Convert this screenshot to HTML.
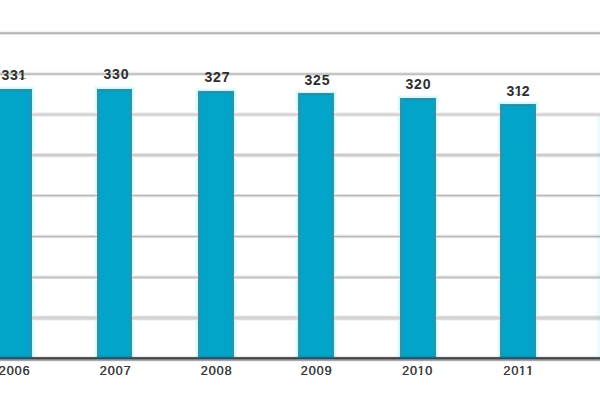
<!DOCTYPE html>
<html>
<head>
<meta charset="utf-8">
<style>
html,body{margin:0;padding:0;background:#fff;}
body{width:600px;height:400px;position:relative;overflow:hidden;font-family:"Liberation Sans",sans-serif;}
.r{position:absolute;left:0;width:600px;height:1px;}
.bar{position:absolute;background:#03a4c9;box-shadow:inset 1px 0 0 #3792a6, inset 2px 0 0 #2696b0, inset 3px 0 0 #149cbc, inset -1px 0 0 #3792a6, inset -2px 0 0 #2696b0, inset -3px 0 0 #149cbc, inset 0 1px 0 #3a8f9f, inset 0 2px 0 #2090a8, inset 0 3px 0 #129cbc;}
.halo{position:absolute;box-shadow:0 0 0 1px #c8f8fd, 0 0 0 2px #dcfdff, 0 0 0 3px #eefeff;}
.v{position:absolute;width:60px;text-align:center;font-weight:bold;font-size:13.8px;letter-spacing:0.85px;padding-left:0.85px;box-sizing:border-box;color:#2e2e2e;text-shadow:none;line-height:16px;height:16px;transform:scaleX(1.02);transform-origin:50% 50%;white-space:nowrap;}
.y{position:absolute;width:60px;text-align:center;font-size:12px;letter-spacing:0.88px;padding-left:0.88px;box-sizing:border-box;color:#3a3a3a;text-shadow:0.35px 0 0 #3a3a3a;line-height:16px;height:16px;transform:scaleX(1.05);transform-origin:50% 50%;white-space:nowrap;}
.o{display:inline-block;}
.v .o{margin-left:-0.5px;margin-right:-1.5px;clip-path:polygon(0 0,100% 0,100% 11.0px,5.0px 11.0px,5.0px 100%,2.8px 100%,2.8px 11.0px,0 11.0px);}
.y .o{margin-left:-0.3px;margin-right:-0.3px;clip-path:polygon(0 0,100% 0,100% 11.0px,4.2px 11.0px,4.2px 100%,2.6px 100%,2.6px 11.0px,0 11.0px);}
.edge{position:absolute;top:116px;right:0;width:5px;height:241px;background:linear-gradient(to right,rgba(0,200,240,0),rgba(0,210,245,0.11));}
</style>
</head>
<body>

<div class="halo" style="left:-4.5px;width:36.5px;top:89px;height:268px"></div>
<div class="halo" style="left:96.5px;width:35.5px;top:89px;height:268px"></div>
<div class="halo" style="left:198px;width:36px;top:91px;height:266px"></div>
<div class="halo" style="left:298px;width:36px;top:93px;height:264px"></div>
<div class="halo" style="left:400px;width:36px;top:98px;height:259px"></div>
<div class="halo" style="left:500px;width:36px;top:104px;height:253px"></div>
<div class="r" style="top:30px;background:#fefefe"></div>
<div class="r" style="top:31px;background:#f4f4f4"></div>
<div class="r" style="top:32px;background:#c0c0c0"></div>
<div class="r" style="top:33px;background:#b8b8b8"></div>
<div class="r" style="top:34px;background:#e4e4e4"></div>
<div class="r" style="top:35px;background:#fcfcfc"></div>
<div class="r" style="top:71px;background:#fcfcfc"></div>
<div class="r" style="top:72px;background:#ececec"></div>
<div class="r" style="top:73px;background:#c8c8c8"></div>
<div class="r" style="top:74px;background:#c0c0c0"></div>
<div class="r" style="top:75px;background:#ececec"></div>
<div class="r" style="top:76px;background:#fefefe"></div>
<div class="r" style="top:111px;background:#fefefe"></div>
<div class="r" style="top:112px;background:#f2f2f2"></div>
<div class="r" style="top:113px;background:#dcdcdc"></div>
<div class="r" style="top:114px;background:#d4d4d4"></div>
<div class="r" style="top:115px;background:#d6d6d6"></div>
<div class="r" style="top:116px;background:#f2f2f2"></div>
<div class="r" style="top:152px;background:#fcfcfc"></div>
<div class="r" style="top:153px;background:#e8e8e8"></div>
<div class="r" style="top:154px;background:#c8c8c8"></div>
<div class="r" style="top:155px;background:#d0d0d0"></div>
<div class="r" style="top:156px;background:#dcdcdc"></div>
<div class="r" style="top:157px;background:#f6f6f6"></div>
<div class="r" style="top:193px;background:#fefefe"></div>
<div class="r" style="top:194px;background:#e2e2e2"></div>
<div class="r" style="top:195px;background:#b8b8b8"></div>
<div class="r" style="top:196px;background:#dadada"></div>
<div class="r" style="top:197px;background:#f6f6f6"></div>
<div class="r" style="top:234px;background:#f8f8f8"></div>
<div class="r" style="top:235px;background:#e0e0e0"></div>
<div class="r" style="top:236px;background:#b8b8b8"></div>
<div class="r" style="top:237px;background:#dadada"></div>
<div class="r" style="top:238px;background:#fafafa"></div>
<div class="r" style="top:274px;background:#fcfcfc"></div>
<div class="r" style="top:275px;background:#f0f0f0"></div>
<div class="r" style="top:276px;background:#dadada"></div>
<div class="r" style="top:277px;background:#c0c0c0"></div>
<div class="r" style="top:278px;background:#dadada"></div>
<div class="r" style="top:279px;background:#fafafa"></div>
<div class="r" style="top:315px;background:#f4f4f4"></div>
<div class="r" style="top:316px;background:#dadada"></div>
<div class="r" style="top:317px;background:#d4d4d4"></div>
<div class="r" style="top:318px;background:#d2d2d2"></div>
<div class="r" style="top:319px;background:#dcdcdc"></div>
<div class="r" style="top:320px;background:#f4f4f4"></div>
<div class="bar" style="left:-4.5px;width:36.5px;top:89px;height:268px"></div>
<div class="bar" style="left:96.5px;width:35.5px;top:89px;height:268px"></div>
<div class="bar" style="left:198px;width:36px;top:91px;height:266px"></div>
<div class="bar" style="left:298px;width:36px;top:93px;height:264px"></div>
<div class="bar" style="left:400px;width:36px;top:98px;height:259px"></div>
<div class="bar" style="left:500px;width:36px;top:104px;height:253px"></div>
<div class="r" style="top:355px;background:rgba(0,0,0,0.015)"></div>
<div class="r" style="top:356px;background:rgba(0,0,0,0.07)"></div>
<div class="r" style="top:357px;background:#5a5a5a"></div>
<div class="r" style="top:358px;background:#444444"></div>
<div class="r" style="top:359px;background:#828282"></div>
<div class="r" style="top:360px;background:#aaaaac"></div>
<div class="r" style="top:361px;background:#f2f2f2"></div>
<div style="position:absolute;left:-4.5px;width:36.5px;top:356px;height:1px;background:#1f8ca6"></div>
<div style="position:absolute;left:-4.5px;width:36.5px;top:357px;height:1px;background:#1a6878"></div>
<div style="position:absolute;left:-4.5px;width:36.5px;top:358px;height:1px;background:#1e5262"></div>
<div style="position:absolute;left:-4.5px;width:36.5px;top:359px;height:1px;background:#7a8a96"></div>
<div style="position:absolute;left:-4.5px;width:36.5px;top:360px;height:1px;background:#a4a6b2"></div>
<div style="position:absolute;left:-4.5px;width:36.5px;top:361px;height:1px;background:#f0f0f8"></div>
<div style="position:absolute;left:96.5px;width:35.5px;top:356px;height:1px;background:#1f8ca6"></div>
<div style="position:absolute;left:96.5px;width:35.5px;top:357px;height:1px;background:#1a6878"></div>
<div style="position:absolute;left:96.5px;width:35.5px;top:358px;height:1px;background:#1e5262"></div>
<div style="position:absolute;left:96.5px;width:35.5px;top:359px;height:1px;background:#7a8a96"></div>
<div style="position:absolute;left:96.5px;width:35.5px;top:360px;height:1px;background:#a4a6b2"></div>
<div style="position:absolute;left:96.5px;width:35.5px;top:361px;height:1px;background:#f0f0f8"></div>
<div style="position:absolute;left:198px;width:36px;top:356px;height:1px;background:#1f8ca6"></div>
<div style="position:absolute;left:198px;width:36px;top:357px;height:1px;background:#1a6878"></div>
<div style="position:absolute;left:198px;width:36px;top:358px;height:1px;background:#1e5262"></div>
<div style="position:absolute;left:198px;width:36px;top:359px;height:1px;background:#7a8a96"></div>
<div style="position:absolute;left:198px;width:36px;top:360px;height:1px;background:#a4a6b2"></div>
<div style="position:absolute;left:198px;width:36px;top:361px;height:1px;background:#f0f0f8"></div>
<div style="position:absolute;left:298px;width:36px;top:356px;height:1px;background:#1f8ca6"></div>
<div style="position:absolute;left:298px;width:36px;top:357px;height:1px;background:#1a6878"></div>
<div style="position:absolute;left:298px;width:36px;top:358px;height:1px;background:#1e5262"></div>
<div style="position:absolute;left:298px;width:36px;top:359px;height:1px;background:#7a8a96"></div>
<div style="position:absolute;left:298px;width:36px;top:360px;height:1px;background:#a4a6b2"></div>
<div style="position:absolute;left:298px;width:36px;top:361px;height:1px;background:#f0f0f8"></div>
<div style="position:absolute;left:400px;width:36px;top:356px;height:1px;background:#1f8ca6"></div>
<div style="position:absolute;left:400px;width:36px;top:357px;height:1px;background:#1a6878"></div>
<div style="position:absolute;left:400px;width:36px;top:358px;height:1px;background:#1e5262"></div>
<div style="position:absolute;left:400px;width:36px;top:359px;height:1px;background:#7a8a96"></div>
<div style="position:absolute;left:400px;width:36px;top:360px;height:1px;background:#a4a6b2"></div>
<div style="position:absolute;left:400px;width:36px;top:361px;height:1px;background:#f0f0f8"></div>
<div style="position:absolute;left:500px;width:36px;top:356px;height:1px;background:#1f8ca6"></div>
<div style="position:absolute;left:500px;width:36px;top:357px;height:1px;background:#1a6878"></div>
<div style="position:absolute;left:500px;width:36px;top:358px;height:1px;background:#1e5262"></div>
<div style="position:absolute;left:500px;width:36px;top:359px;height:1px;background:#7a8a96"></div>
<div style="position:absolute;left:500px;width:36px;top:360px;height:1px;background:#a4a6b2"></div>
<div style="position:absolute;left:500px;width:36px;top:361px;height:1px;background:#f0f0f8"></div>
<div class="edge"></div>
<div class="v" style="left:-17.25px;top:68.0px">33<span class="o">1</span></div>
<div class="v" style="left:85.8px;top:66.75px">330</div>
<div class="v" style="left:186.6px;top:69.75px">327</div>
<div class="v" style="left:287.1px;top:72.75px">325</div>
<div class="v" style="left:387.75px;top:76.5px">320</div>
<div class="v" style="left:488.25px;top:83.75px">3<span class="o">1</span>2</div>
<div class="y" style="left:-16.4px;top:363px">2006</div>
<div class="y" style="left:85.15px;top:363px">2007</div>
<div class="y" style="left:186.0px;top:363px">2008</div>
<div class="y" style="left:286.3px;top:363px">2009</div>
<div class="y" style="left:387.4px;top:363px">20<span class="o">1</span>0</div>
<div class="y" style="left:487.5px;top:363px">20<span class="o">1</span><span class="o">1</span></div>
</body>
</html>
